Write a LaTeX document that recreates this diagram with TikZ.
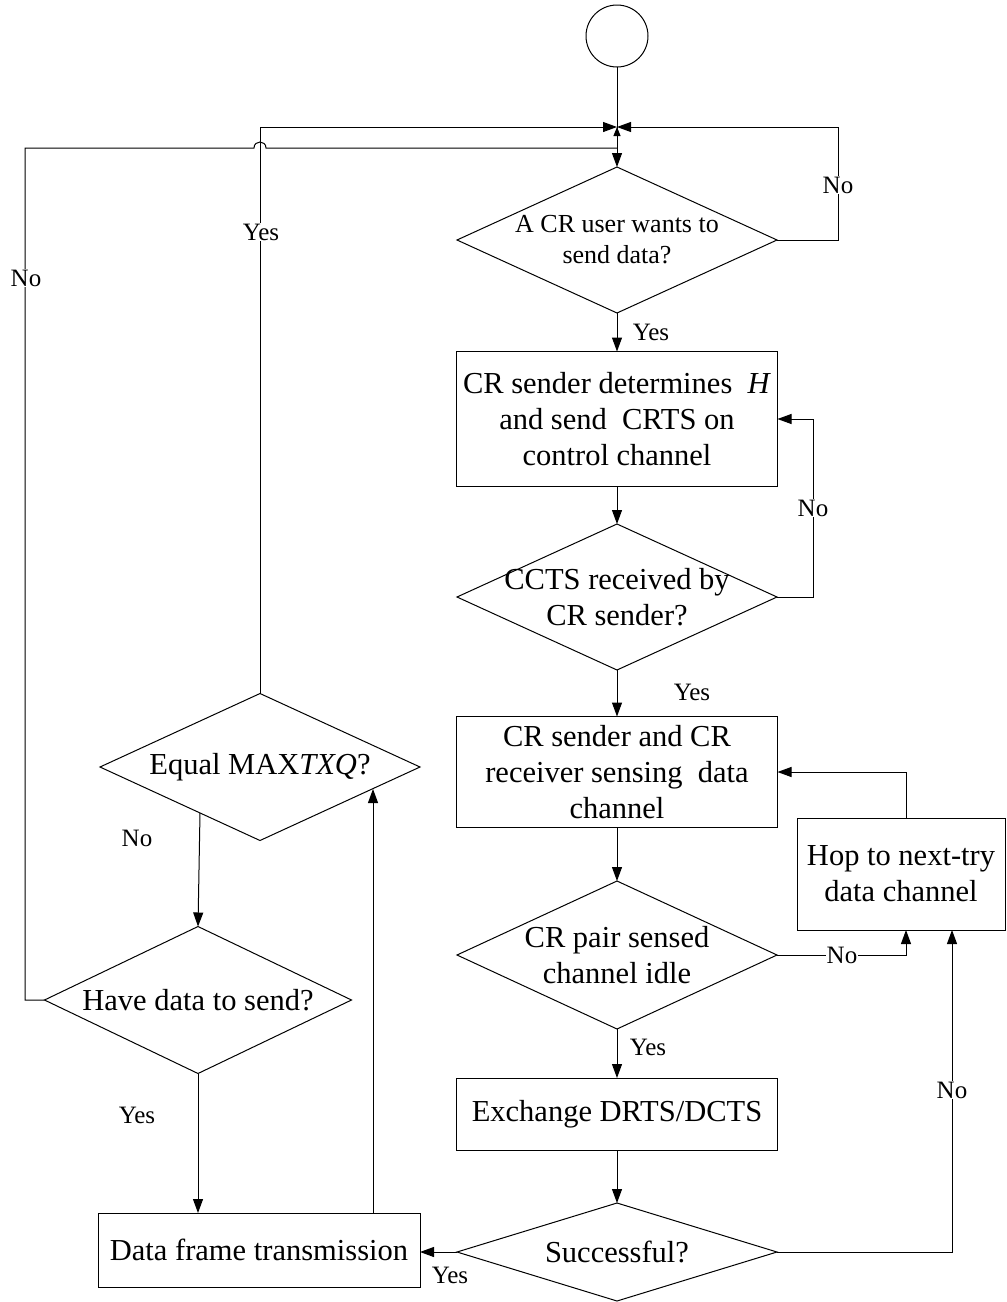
\documentclass[tikz,border=0pt]{standalone}
\usepackage{fontspec}
\setmainfont{Liberation Serif}
\usetikzlibrary{shapes.geometric,arrows.meta}
\begin{document}
\begin{tikzpicture}[x=1pt,y=-1pt,
  line width=1pt,
  arr/.style={-{Triangle[length=14pt,width=10pt]}},
  smallarr/.style={-{Triangle[length=9pt,width=7pt]}},
  procbox/.style={draw,rectangle,inner sep=0pt,outer sep=0pt},
  decide/.style={draw,diamond,inner sep=0pt,outer sep=0pt},
  bigtext/.style={font=\fontsize{30.5}{36}\selectfont,align=center},
  smalltext/.style={font=\fontsize{26}{31}\selectfont,align=center},
  lab/.style={font=\fontsize{25}{29}\selectfont,inner sep=1pt},
  onlab/.style={lab,fill=white},
]
\useasboundingbox (0,0) rectangle (1007,1302);

% start
\node[draw,circle,minimum size=62pt,inner sep=0pt,outer sep=0pt] (start) at (617,36) {};
\coordinate (J) at (617,127);

% right column
\node[decide,minimum width=320pt,minimum height=146pt] (d1) at (617,240) {};
\node[smalltext] (t1) at (d1) {A CR user wants to\\send data?};

\node[procbox,bigtext,minimum width=321pt,minimum height=135pt] (b1) at (617,419)
  {CR sender determines\ \ \textit{H}\\and send\ \ CRTS on\\control channel};

\node[decide,minimum width=320pt,minimum height=146pt] (d2) at (617,597) {};
\node[bigtext] (t2) at (d2) {CCTS received by\\CR sender?};

\node[procbox,bigtext,minimum width=321pt,minimum height=111pt] (b2) at (617,772)
  {CR sender and CR\\receiver sensing\ \ data\\channel};

\node[decide,minimum width=320pt,minimum height=148pt] (d3) at (617,955) {};
\node[bigtext] (t3) at (d3) {CR pair sensed\\channel idle};

\node[procbox,bigtext,minimum width=208pt,minimum height=112pt] (hop) at (901,874)
  {Hop to next-try\\data channel};

\node[procbox,bigtext,minimum width=321pt,minimum height=72pt] (b3) at (617,1114)
  {Exchange DRTS/DCTS};

\node[decide,minimum width=320pt,minimum height=98pt] (d4) at (617,1252) {};
\node[bigtext] (t4) at (d4) {Successful?};

% left column
\node[procbox,bigtext,minimum width=322pt,minimum height=74pt] (b4) at (259,1250)
  {Data frame transmission};

\node[decide,minimum width=320pt,minimum height=147pt] (d5) at (260,767) {};
\node[bigtext] (t5) at (d5) {Equal MAX\textit{TXQ}?};

\node[decide,minimum width=307pt,minimum height=147pt] (d6) at (198,1000) {};
\node[bigtext] (t6) at (d6) {Have data to send?};

% connectors top
\draw (start.south) -- (J);
\draw[arr] (J) -- (d1.north);
\draw[smallarr] (617,148) -- (J);
\draw[arr] (d1.east) -- ++(61,0) |- (J);
\node[onlab] at (838,185) {No};
\draw[arr] (d5.north) |- (J);
\node[onlab] at (261,232) {Yes};
\draw (d6.west) -| (25,148) -- (254,148) .. controls (254,140) and (266,140) .. (266,148) -- (617,148);
\node[onlab] at (26,278) {No};

% right column connectors
\draw[arr] (d1.south) -- (b1.north);
\node[lab] at (651,332) {Yes};
\draw[arr] (b1.south) -- (d2.north);
\draw[arr] (d2.east) -- ++(36,0) |- (b1.east);
\node[onlab] at (813,508) {No};
\draw[arr] (d2.south) -- (b2.north);
\node[lab] at (692,692) {Yes};
\draw[arr] (b2.south) -- (d3.north);
\draw[arr] (d3.east) -| ([xshift=5pt]hop.south);
\node[onlab] at (842,955) {No};
\draw[arr] ([xshift=5pt]hop.north) |- (b2.east);
\draw[arr] (d3.south) -- (b3.north);
\node[lab] at (648,1047) {Yes};
\draw[arr] (b3.south) -- (d4.north);
\draw[arr] (d4.east) -| ([xshift=51pt]hop.south);
\node[onlab] at (952,1090) {No};
\draw[arr] (d4.west) -- (d4.west -| b4.east);
\node[lab] at (450,1275) {Yes};

% left column connectors
\coordinate (p5) at (373,789);
\draw[arr] (b4.north -| p5) -- (p5);
\coordinate (p5b) at (200,813);
\draw[arr] (p5b) -- (d6.north);
\node[lab] at (137,838) {No};
\draw[arr] (d6.south) -- (d6.south |- b4.north);
\node[lab] at (137,1115) {Yes};
\end{tikzpicture}
\end{document}
